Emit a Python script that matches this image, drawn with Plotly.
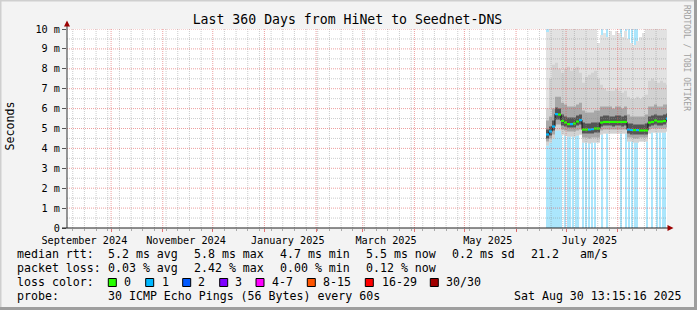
import pandas as pd
import plotly.graph_objects as go

# ---------------- data ----------------
range_start = "2024-09-04 13:15:16"
range_end = "2025-08-30 13:15:16"

sample_start = "2025-06-18 22:54"
sample_step_hours = 43.2

# median rtt (ms) per sample
median_ms = [4.70, 4.85, 5.10, 5.72, 5.70, 5.38, 5.30, 5.22, 5.22, 5.25,
             5.35, 5.42, 4.95, 4.95, 4.95, 4.97, 5.00, 5.00, 5.30, 5.33,
             5.33, 5.33, 5.33, 5.33, 5.33, 5.33, 5.33, 4.95, 4.93, 4.92,
             4.92, 4.90, 4.90, 4.90, 5.30, 5.33, 5.40, 5.35, 5.35, 5.38,
             5.50]
# lost pings (of 30) used to colour the median
median_loss = [1, 1, 1, 1, 0, 0, 0, 0, 1, 0,
               0, 1, 0, 0, 1, 1, 0, 0, 0, 0,
               0, 0, 0, 0, 0, 0, 0, 1, 1, 0,
               1, 0, 0, 0, 0, 0, 0, 0, 0, 0,
               1]
# smoke bands (ms)
smoke_min = [4.15, 4.30, 4.50, 4.90, 4.90, 4.70, 4.65, 4.60, 4.60, 4.60,
             4.65, 4.70, 4.30, 4.30, 4.25, 4.30, 4.30, 4.30, 4.70, 4.75,
             4.75, 4.75, 4.75, 4.75, 4.75, 4.75, 4.75, 4.35, 4.35, 4.30,
             4.30, 4.35, 4.35, 4.35, 4.75, 4.80, 4.80, 4.80, 4.80, 4.80,
             4.85]
smoke_lo3 = [4.35, 4.50, 4.70, 5.20, 5.20, 4.95, 4.90, 4.85, 4.85, 4.85,
             4.90, 4.95, 4.55, 4.55, 4.50, 4.55, 4.55, 4.55, 4.90, 4.95,
             4.95, 4.95, 4.95, 4.95, 4.95, 4.95, 4.95, 4.55, 4.55, 4.50,
             4.50, 4.55, 4.55, 4.55, 4.95, 5.00, 5.00, 5.00, 5.00, 5.00,
             5.05]
smoke_lo4 = [4.50, 4.65, 4.90, 5.45, 5.45, 5.15, 5.10, 5.05, 5.05, 5.05,
             5.15, 5.20, 4.75, 4.75, 4.75, 4.75, 4.80, 4.80, 5.10, 5.15,
             5.15, 5.15, 5.10, 5.15, 5.15, 5.10, 5.15, 4.75, 4.70, 4.70,
             4.70, 4.70, 4.70, 4.70, 5.10, 5.15, 5.20, 5.15, 5.15, 5.20,
             5.30]
smoke_hi4 = [4.95, 5.10, 5.40, 6.05, 6.00, 5.70, 5.60, 5.55, 5.55, 5.55,
             5.65, 5.70, 5.30, 5.25, 5.25, 5.30, 5.30, 5.30, 5.60, 5.65,
             5.65, 5.60, 5.60, 5.65, 5.65, 5.60, 5.65, 5.25, 5.25, 5.20,
             5.20, 5.20, 5.20, 5.25, 5.60, 5.65, 5.70, 5.65, 5.65, 5.70,
             5.75]
smoke_hi3 = [5.40, 5.60, 6.00, 6.60, 6.60, 6.30, 6.20, 6.10, 6.10, 6.10,
             6.20, 6.30, 5.90, 5.80, 5.80, 5.80, 5.90, 5.90, 6.10, 6.10,
             6.10, 6.10, 6.00, 6.10, 6.10, 6.00, 6.10, 5.70, 5.60, 5.60,
             5.60, 5.60, 5.60, 5.70, 6.10, 6.10, 6.20, 6.10, 6.10, 6.20,
             6.20]
smoke_hi2 = [6.00, 7.50, 8.20, 8.30, 8.00, 7.80, 8.00, 8.10, 7.90, 8.00,
             8.10, 7.80, 7.30, 7.60, 7.70, 7.80, 7.90, 7.50, 7.20, 7.00,
             6.90, 6.90, 6.90, 7.00, 6.90, 6.80, 6.90, 6.60, 6.50, 6.50,
             6.60, 6.50, 6.60, 6.70, 7.40, 7.50, 7.40, 7.30, 7.40, 7.30,
             7.20]
smoke_max = [9.85, 11.0, 11.0, 11.0, 11.0, 11.0, 11.0, 11.0, 11.0, 11.0,
             11.0, 11.0, 11.0, 11.0, 11.0, 11.0, 11.0, 9.30, 9.70, 9.80,
             9.60, 9.90, 9.70, 9.90, 9.80, 9.60, 9.90, 9.50, 9.30, 9.20,
             9.40, 9.60, 9.80, 11.0, 11.0, 11.0, 11.0, 11.0, 11.0, 11.0,
             11.0]

# intervals with packet loss (background loss bars)
loss_times = ["2025-06-19 13:18", "2025-06-20 03:42", "2025-06-20 18:06", "2025-06-21 08:30",
              "2025-06-21 22:54", "2025-06-22 13:18", "2025-06-23 18:06", "2025-06-24 08:30",
              "2025-06-24 22:54", "2025-06-25 13:18", "2025-06-26 03:42", "2025-06-26 18:06",
              "2025-06-27 22:54", "2025-06-30 15:42", "2025-07-02 03:42", "2025-07-03 15:42",
              "2025-07-05 08:00", "2025-07-07 01:48", "2025-07-08 10:54", "2025-07-11 03:42",
              "2025-07-13 01:48", "2025-07-14 18:06", "2025-07-16 13:18", "2025-07-18 05:36",
              "2025-07-22 20:30", "2025-07-25 20:30", "2025-08-02 22:54", "2025-08-05 18:36",
              "2025-08-07 18:06", "2025-08-09 09:00", "2025-08-11 08:30", "2025-08-12 17:36",
              "2025-08-18 16:12", "2025-08-21 17:36", "2025-08-24 20:30", "2025-08-26 08:30",
              "2025-08-28 03:42", "2025-08-29 08:30"]
loss_counts = [1, 1, 1, 1, 1, 1, 1, 1, 1, 1, 1, 1, 1, 1, 1, 1, 1, 1, 1,
               1, 1, 1, 1, 1, 1, 1, 1, 1, 1, 1, 1, 1, 1, 1, 1, 1, 1, 1]

month_label_dates = ["2024-09-15", "2024-11-15", "2025-01-15", "2025-03-15", "2025-05-15", "2025-07-15"]
month_labels = ["September 2024", "November 2024", "January 2025", "March 2025", "May 2025", "July 2025"]
y_tick_values = [0, 1, 2, 3, 4, 5, 6, 7, 8, 9, 10]
y_tick_labels = ["0", "1 m", "2 m", "3 m", "4 m", "5 m", "6 m", "7 m", "8 m", "9 m", "10 m"]

title_text = "Last 360 Days from HiNet to Seednet-DNS"
loss_legend_labels = ["0", "1", "2", "3", "4-7", "8-15", "16-29", "30/30"]
loss_legend_colors = ["#26ff00", "#00b8ff", "#0059ff", "#7e00ff", "#ff00ff", "#ff5500", "#ff0000", "#a10000"]

stats_rows = [
    [("median rtt:", 16), ("5.2 ms avg", 107.3), ("5.8 ms max", 193.3), ("4.7 ms min", 279.3),
     ("5.5 ms now", 365.3), ("0.2 ms sd", 451), ("21.2", 530.3), ("am/s", 579.3)],
    [("packet loss:", 16), ("0.03 % avg", 107.3), ("2.42 % max", 193.3), ("0.00 % min", 279.3),
     ("0.12 % now", 365.3)],
    [("loss color:", 16)],
    [("probe:", 16), ("30 ICMP Echo Pings (56 Bytes) every 60s", 107.3),
     ("Sat Aug 30 13:15:16 2025", 513.3)],
]

# ---------------- layout constants ----------------
W, H = 697, 310
ML, MR, MT, MB = 67, 30, 29, 82
PW = W - ML - MR
PH = H - MT - MB
MONO = "DejaVu Sans Mono"
MAJOR_GRID = "rgba(222,80,80,0.55)"
MINOR_GRID = "rgba(140,140,140,0.45)"
LOSS_BG = "#abe6fc"


def px(x):
    return (x - ML) / PW


def py(y):
    return (H - MB - y) / PH


step = pd.Timedelta(hours=sample_step_hours)
times = list(pd.date_range(sample_start, periods=len(median_ms), freq=step))
times_ext = times + [times[-1] + step]


def ext(v):
    return list(v) + [v[-1]]


fig = go.Figure()

# loss background bars (full height)
fig.add_trace(go.Bar(
    x=pd.to_datetime(loss_times), y=[y_tick_values[-1] for _ in loss_counts],
    width=0.7 * 86400000, marker=dict(color=LOSS_BG, line=dict(width=0)),
    hoverinfo="skip", showlegend=False))


def band(lo, hi, color):
    fig.add_trace(go.Scatter(x=times_ext, y=ext(lo), mode="lines", line=dict(width=0, shape="hv"),
                             hoverinfo="skip", showlegend=False))
    fig.add_trace(go.Scatter(x=times_ext, y=ext(hi), mode="lines", line=dict(width=0, shape="hv"),
                             fill="tonexty", fillcolor=color, hoverinfo="skip", showlegend=False))


band(smoke_min, smoke_max, "#e2e2e2")
band(smoke_min, smoke_hi2, "#d2d2d2")
band(smoke_lo3, smoke_hi3, "#a8a8a8")
band(smoke_lo4, smoke_hi4, "#555555")

# median: dark step line + colored horizontal segments
fig.add_trace(go.Scatter(x=times_ext, y=ext(median_ms), mode="lines",
                         line=dict(color="#111111", width=1, shape="hv"),
                         hoverinfo="skip", showlegend=False))
for lossval, col in [(0, loss_legend_colors[0]), (1, loss_legend_colors[1])]:
    sx, sy = [], []
    for i, m in enumerate(median_ms):
        if median_loss[i] == lossval:
            sx += [times_ext[i], times_ext[i + 1], None]
            sy += [m, m, None]
    fig.add_trace(go.Scatter(x=sx, y=sy, mode="lines", line=dict(color=col, width=2.2),
                             hoverinfo="skip", showlegend=False))

# dummy trace for label axis
fig.add_trace(go.Scatter(x=[range_start, range_end], y=[0, 0], xaxis="x2", mode="lines",
                         line=dict(width=0), opacity=0, hoverinfo="skip", showlegend=False))

shapes = []
months = list(pd.date_range("2024-10-01", range_end, freq="MS"))
weeks = list(pd.date_range("2024-09-08", range_end, freq="7D"))
for w in weeks:
    if w in months:
        continue
    shapes.append(dict(type="line", xref="x", yref="paper", x0=w, x1=w, y0=0, y1=1, layer="above",
                       line=dict(color=MINOR_GRID, width=1, dash="1px,1px")))
for yv in [0.5 + i for i in range(10)]:
    shapes.append(dict(type="line", xref="paper", yref="y", x0=0, x1=1, y0=yv, y1=yv, layer="above",
                       line=dict(color=MINOR_GRID, width=1, dash="1px,1px")))
for m in months:
    shapes.append(dict(type="line", xref="x", yref="paper", x0=m, x1=m, y0=0, y1=1, layer="above",
                       line=dict(color=MAJOR_GRID, width=1, dash="1px,1px")))
for yv in y_tick_values[1:]:
    shapes.append(dict(type="line", xref="paper", yref="y", x0=0, x1=1, y0=yv, y1=yv, layer="above",
                       line=dict(color=MAJOR_GRID, width=1, dash="1px,1px")))

# axes lines and arrows
shapes.append(dict(type="line", xref="paper", yref="paper", x0=px(67), x1=px(67), y0=py(228), y1=py(25),
                   layer="above", line=dict(color="#303030", width=1)))
shapes.append(dict(type="line", xref="paper", yref="paper", x0=px(62), x1=px(669), y0=py(228), y1=py(228),
                   layer="above", line=dict(color="#202020", width=1)))


def path(points):
    return "M " + " L ".join(f"{px(a):.5f},{py(b):.5f}" for a, b in points) + " Z"


shapes.append(dict(type="path", xref="paper", yref="paper", path=path([(64.0, 26.5), (70.0, 26.5), (67.0, 20.5)]),
                   fillcolor="#9b0000", line=dict(width=0), layer="above"))
shapes.append(dict(type="path", xref="paper", yref="paper", path=path([(667.5, 225.0), (667.5, 231.0), (673.5, 228.0)]),
                   fillcolor="#9b0000", line=dict(width=0), layer="above"))

# image frame
shapes.append(dict(type="line", xref="paper", yref="paper", x0=px(0), x1=px(697), y0=py(0.5), y1=py(0.5),
                   line=dict(color="#cfcfcf", width=2)))
shapes.append(dict(type="line", xref="paper", yref="paper", x0=px(0.5), x1=px(0.5), y0=py(0), y1=py(310),
                   line=dict(color="#cfcfcf", width=2)))
shapes.append(dict(type="line", xref="paper", yref="paper", x0=px(695.5), x1=px(695.5), y0=py(0), y1=py(310),
                   line=dict(color="#9e9e9e", width=3)))
shapes.append(dict(type="line", xref="paper", yref="paper", x0=px(0), x1=px(697), y0=py(308.5), y1=py(308.5),
                   line=dict(color="#9e9e9e", width=3)))

annotations = []
row_y = [254.3, 268.3, 282.4, 296.0]
for r, row in enumerate(stats_rows):
    for text, xpos in row:
        annotations.append(dict(text=text, xref="paper", yref="paper", x=px(xpos), y=py(row_y[r]),
                                xanchor="left", yanchor="middle", showarrow=False, borderpad=0,
                                font=dict(family=MONO, size=11.6, color="#000000")))

box_x = [108.3, 145.7, 182.7, 219.7, 256.0, 307.3, 365.3, 430.3]
lab_x = [123.3, 160.7, 197.3, 234.3, 271.0, 322.0, 380.7, 445.3]
for lab, col, bx, lx in zip(loss_legend_labels, loss_legend_colors, box_x, lab_x):
    shapes.append(dict(type="rect", xref="paper", yref="paper", x0=px(bx), x1=px(bx + 8),
                       y0=py(286.5), y1=py(278.5), fillcolor=col, line=dict(color="#000000", width=1)))
    annotations.append(dict(text=lab, xref="paper", yref="paper", x=px(lx), y=py(row_y[2]),
                            xanchor="left", yanchor="middle", showarrow=False, borderpad=0,
                            font=dict(family=MONO, size=11.6, color="#000000")))

annotations.append(dict(text="Seconds", xref="paper", yref="paper", x=px(10), y=py(126.5), textangle=-90,
                        xanchor="center", yanchor="middle", showarrow=False, borderpad=0,
                        font=dict(family=MONO, size=11.6, color="#000000")))
annotations.append(dict(text="RRDTOOL / TOBI OETIKER", xref="paper", yref="paper", x=px(686), y=py(58),
                        textangle=90, xanchor="center", yanchor="middle", showarrow=False, borderpad=0,
                        font=dict(family=MONO, size=8, color="#a0a0a0")))

fig.update_layout(
    width=W, height=H, margin=dict(l=ML, r=MR, t=MT, b=MB, pad=0),
    paper_bgcolor="#f3f3f3", plot_bgcolor="#ffffff", showlegend=False, barmode="overlay",
    title=dict(text=title_text, x=347.5 / W, xref="container", xanchor="center",
               y=1 - 19 / H, yref="container", yanchor="middle",
               font=dict(family=MONO, size=13.2, color="#000000")),
    xaxis=dict(type="date", range=[range_start, range_end], showgrid=False, zeroline=False, showline=False,
               tickmode="array", tickvals=months, showticklabels=False, ticks="outside", ticklen=3,
               tickcolor="rgba(222,80,80,0.8)", tickwidth=1,
               minor=dict(dtick=7 * 86400000, tick0="2024-09-08", ticks="outside", ticklen=2,
                          tickcolor="#aaaaaa", showgrid=False)),
    xaxis2=dict(type="date", overlaying="x", anchor="y", side="bottom", range=[range_start, range_end],
                showgrid=False, zeroline=False, showline=False, ticks="outside", ticklen=3,
                tickcolor="rgba(0,0,0,0)",
                tickmode="array", tickvals=month_label_dates, ticktext=month_labels,
                tickfont=dict(family=MONO, size=10.2, color="#000000")),
    yaxis=dict(range=[0, 10], showgrid=False, zeroline=False, showline=False,
               tickmode="array", tickvals=y_tick_values, ticktext=y_tick_labels,
               ticks="outside", ticklen=4, tickcolor="#555555",
               tickfont=dict(family=MONO, size=10.2, color="#000000")),
    shapes=shapes, annotations=annotations,
)

fig.write_html("out.html")
